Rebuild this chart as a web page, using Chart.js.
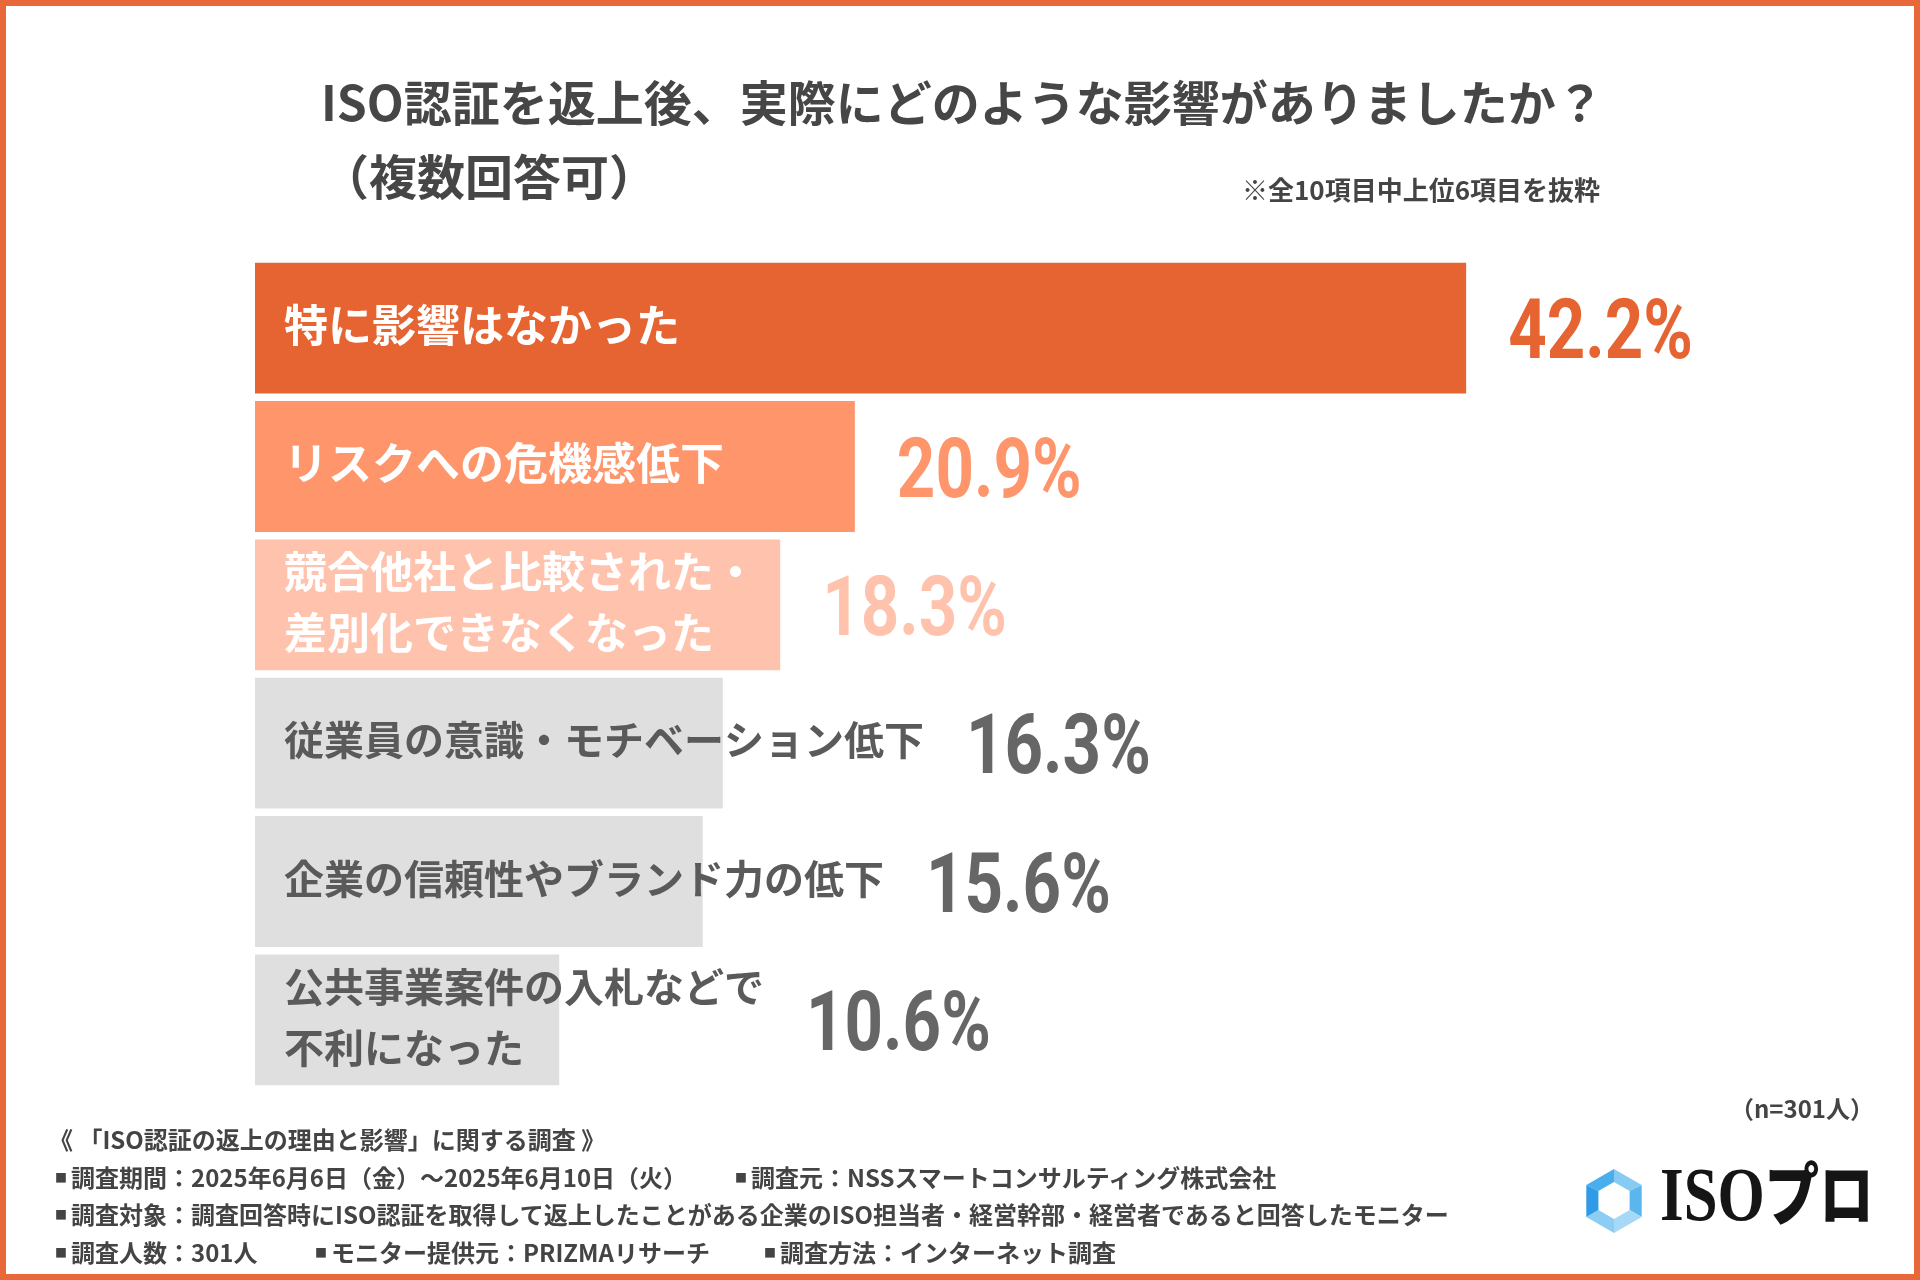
<!DOCTYPE html>
<html>
<head>
    <meta charset="utf-8">
    <title>ISO認証を返上後、実際にどのような影響がありましたか？</title>
    <script src="https://cdn.jsdelivr.net/npm/chart.js"></script>
    <style>
        html, body {
            margin: 0;
            padding: 0;
            background: #ffffff;
        }

        #page {
            position: relative;
            width: 1920px;
            height: 1280px;
            box-sizing: border-box;
            border: 6px solid #E8683A;
            overflow: hidden;
            font-family: "Noto Sans CJK JP", "Noto Sans", sans-serif;
            font-weight: bold;
            color: #464646;
        }

        #chart {
            position: absolute;
            left: -6px;
            top: -6px;
        }

        .abs {
            position: absolute;
            white-space: nowrap;
        }

        .title {
            left: 315px;
            font-size: 48px;
            line-height: 1;
        }

        .note {
            right: 314px;
            top: 164px;
            font-size: 26px;
            color: #444;
        }

        .foot {
            font-size: 24px;
            color: #444;
            line-height: 1;
        }

        .sq {
            font-size: 12px;
            vertical-align: 4px;
            margin-right: 4px;
        }

        #hex {
            left: 1579px;
            top: 1162px;
        }

        #logoText {
            left: 1654px;
            top: 1150px;
            line-height: 1;
            color: #151515;
            transform: scaleX(0.8);
            transform-origin: left center;
        }

        #logoText .iso {
            font-family: "Liberation Serif", serif;
            font-size: 76px;
            font-weight: bold;
        }

        #logoText .pro {
            font-size: 68px;
            font-weight: 900;
        }
    </style>
</head>
<body>
<div id="page">
    <canvas id="chart" width="1920" height="1280"></canvas>

    <div class="abs title" style="top: 70px;">ISO認証を返上後、実際にどのような影響がありましたか？</div>
    <div class="abs title" style="top: 144px;">（複数回答可）</div>
    <div class="abs note">※全10項目中上位6項目を抜粋</div>

    <div class="abs foot" style="right: 40px; top: 1090px;">（n=301人）</div>
    <div class="abs foot" style="left: 43px; top: 1121px;">《 「ISO認証の返上の理由と影響」に関する調査 》</div>
    <div class="abs foot" style="left: 49px; top: 1159px;"><span class="sq">■</span>調査期間：2025年6月6日（金）～2025年6月10日（火）</div>
    <div class="abs foot" style="left: 729px; top: 1159px;"><span class="sq">■</span>調査元：NSSスマートコンサルティング株式会社</div>
    <div class="abs foot" style="left: 49px; top: 1196px;"><span class="sq">■</span>調査対象：調査回答時にISO認証を取得して返上したことがある企業のISO担当者・経営幹部・経営者であると回答したモニター</div>
    <div class="abs foot" style="left: 49px; top: 1234px;"><span class="sq">■</span>調査人数：301人</div>
    <div class="abs foot" style="left: 309px; top: 1234px;"><span class="sq">■</span>モニター提供元：PRIZMAリサーチ</div>
    <div class="abs foot" style="left: 758px; top: 1234px;"><span class="sq">■</span>調査方法：インターネット調査</div>

    <svg class="abs" id="hex" width="58" height="66" viewBox="0 0 58 66">
        <!-- ring split into six faces -->
        <polygon points="29,1 29,14 13.4,23 1.3,17" fill="#4AAEEC"/>
        <polygon points="29,1 56.7,17 44.6,23 29,14" fill="#86CBF2"/>
        <polygon points="56.7,17 56.7,49 44.6,42 44.6,23" fill="#5BB6EE"/>
        <polygon points="56.7,49 29,65 29,51 44.6,42" fill="#A6D9F5"/>
        <polygon points="29,65 1.3,49 13.4,42 29,51" fill="#8DCDF3"/>
        <polygon points="1.3,49 1.3,17 13.4,23 13.4,42" fill="#2F9BE6"/>
    </svg>
    <div class="abs" id="logoText"><span class="iso">ISO</span><span class="pro">プロ</span></div>
</div>

<script>
    // data
    const categories = [
        '特に影響はなかった',
        'リスクへの危機感低下',
        ['競合他社と比較された・', '差別化できなくなった'],
        '従業員の意識・モチベーション低下',
        '企業の信頼性やブランド力の低下',
        ['公共事業案件の入札などで', '不利になった']
    ];
    const percents = [42.2, 20.9, 18.3, 16.3, 15.6, 10.6];

    // styles
    const barColors = ['#E66332', '#FF956A', '#FFC3AD', '#DFDFDF', '#DFDFDF', '#DFDFDF'];
    const nameColors = ['#ffffff', '#ffffff', '#ffffff', '#5a5a5a', '#5a5a5a', '#5a5a5a'];
    const nameSizes = [44, 44, 43, 40, 40, 40];
    const valueColors = ['#E66332', '#FF956A', '#FFC3AD', '#666666', '#666666', '#666666'];

    const valueFont = 'bold 84px Roboto, sans-serif';
    const valueSqueeze = 0.8;

    // category names inside bars and values to the right
    const barText = {
        id: 'barText',
        afterDatasetsDraw(chart) {
            const ctx = chart.ctx;
            const meta = chart.getDatasetMeta(0);
            meta.data.forEach((bar, i) => {
                const lines = Array.isArray(categories[i]) ? categories[i] : [categories[i]];
                const textX = bar.base + 29;
                const lineH = 61;
                ctx.save();
                ctx.font = 'bold ' + nameSizes[i] + 'px "Noto Sans CJK JP", sans-serif';
                ctx.fillStyle = nameColors[i];
                ctx.textAlign = 'left';
                ctx.textBaseline = 'middle';
                let textEnd = 0;
                lines.forEach((line, k) => {
                    const y = bar.y - 3 + (k - (lines.length - 1) / 2) * lineH;
                    ctx.fillText(line, textX, y);
                    textEnd = Math.max(textEnd, textX + ctx.measureText(line).width);
                });
                ctx.restore();

                const vx = Math.max(bar.x, textEnd) + 42;
                ctx.save();
                ctx.font = valueFont;
                ctx.fillStyle = valueColors[i];
                ctx.textAlign = 'left';
                ctx.textBaseline = 'alphabetic';
                ctx.translate(vx, bar.y + 30);
                ctx.scale(valueSqueeze, 1);
                ctx.fillText(percents[i].toFixed(1) + '%', 0, 0);
                ctx.restore();
            });
        }
    };

    new Chart(document.getElementById('chart').getContext('2d'), {
        type: 'bar',
        data: {
            labels: categories,
            datasets: [{
                data: percents,
                backgroundColor: barColors,
                borderWidth: 0,
                barPercentage: 0.946,
                categoryPercentage: 1
            }]
        },
        options: {
            indexAxis: 'y',
            responsive: false,
            animation: false,
            devicePixelRatio: 1,
            layout: {
                padding: { left: 255, right: 230, top: 259, bottom: 191 }
            },
            scales: {
                x: { min: 0, max: 50, display: false },
                y: { display: false }
            },
            plugins: {
                legend: { display: false },
                tooltip: { enabled: false }
            }
        },
        plugins: [barText]
    });
</script>
</body>
</html>
